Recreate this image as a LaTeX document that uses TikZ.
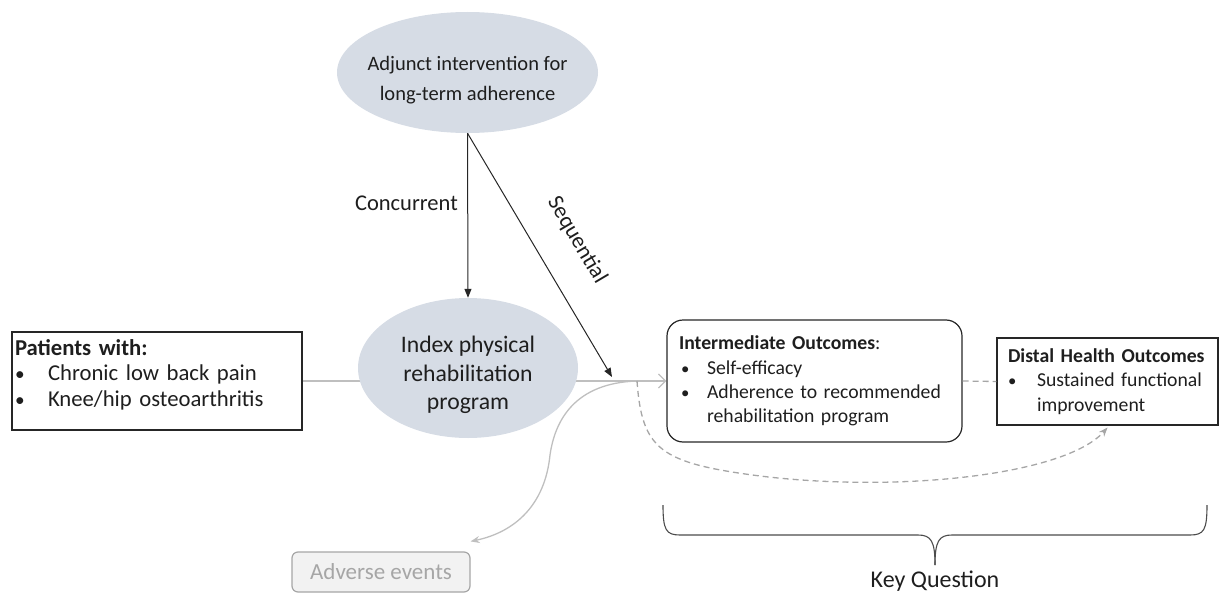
\documentclass[tikz,border=0pt]{standalone}
\usepackage{fontspec}
\setmainfont{Carlito}
\usetikzlibrary{arrows.meta,shapes.geometric}
\pgfdeclarelayer{bg}
\pgfsetlayers{bg,main}
\definecolor{ellfill}{HTML}{D6DCE5}
\definecolor{lgray}{HTML}{BFBFBF}
\definecolor{dgray}{HTML}{A6A6A6}
\definecolor{txt}{HTML}{1E1E1E}
\definecolor{aefill}{HTML}{F2F2F2}
\newcommand\bulbox[1]{\makebox[#1][l]{\scalebox{0.85}{\textbullet}}}
\begin{document}
\begin{tikzpicture}[x=1pt,y=-1pt,
  ell/.style={ellipse, fill=ellfill, inner sep=0pt},
  lbl/.style={text=txt, align=center, inner sep=0pt},
  box/.style={draw=black!85, line width=1.2pt, align=left, inner sep=0pt, text=txt},
  conn/.style={line width=1pt, draw=black!85, -{Triangle[length=9pt,width=7pt]}},
  grayline/.style={draw=lgray, line width=1.3pt},
  dashline/.style={draw=dgray, line width=1.3pt, dash pattern=on 6pt off 4pt}
]
\useasboundingbox (0,0) rectangle (1221,594);

% ellipses
\node[ell, minimum width=261pt, minimum height=121pt] (adj) at (467.5,72.5) {};
\node[lbl, font=\fontsize{20.5}{30}\selectfont] (adjtxt) at ([yshift=-8pt]adj.center) {Adjunct intervention for\\long-term adherence};
\node[ell, minimum width=220pt, minimum height=140pt] (idx) at (468,368) {};
\node[lbl, font=\fontsize{23.7}{28.5}\selectfont] (idxtxt) at ([yshift=-7pt]idx.center) {Index physical\\rehabilitation\\program};

% boxes
\node[box, minimum width=290pt, minimum height=98pt, text width=284pt,
      font=\fontsize{22.7}{26}\selectfont] (pat) at (157,381)
  {\mbox{\bfseries Patients with:}\\[-1pt]
   \mbox{\bulbox{33pt}Chronic low back pain}\\
   \mbox{\bulbox{33pt}Knee/hip osteoarthritis}\\[-18pt]\strut};

\node[box, rounded corners=16pt, minimum width=295pt, minimum height=122pt, text width=271pt,
      font=\fontsize{19.7}{24.5}\selectfont] (int) at (814.5,381)
  {\mbox{{\bfseries Intermediate Outcomes}:}\\
   \mbox{\hspace*{2pt}\bulbox{26pt}Self-efficacy}\\
   \mbox{\hspace*{2pt}\bulbox{26pt}Adherence to recommended}\\[-1pt]
   \mbox{\hspace*{28pt}rehabilitation program}};

\node[box, minimum width=221pt, minimum height=87pt, text width=199pt,
      font=\fontsize{19.7}{24.5}\selectfont] (dist) at (1107.5,381.5)
  {\mbox{\bfseries Distal Health Outcomes}\\
   \mbox{\bulbox{29pt}Sustained functional}\\
   \mbox{\hspace*{29pt}improvement}};

\node[draw=dgray, fill=aefill, line width=1.2pt, rounded corners=6pt,
      minimum width=178pt, minimum height=40pt, inner sep=0pt, text=dgray,
      font=\fontsize{23}{26}\selectfont] (ae) at (381,572) {Adverse events};

% labels
\node[lbl, anchor=east, font=\fontsize{22.5}{26}\selectfont] (conc) at (458,203) {Concurrent};
\node[lbl, rotate=-59.4, font=\fontsize{22.5}{26}\selectfont] (seq) at (577,240) {Sequential};
\node[lbl, font=\fontsize{24}{28}\selectfont] (kq) at (935,581) {Key Question};

% coordinates
\coordinate (seqend) at (612,377);
\coordinate (split) at (637,381);
\coordinate (aetip) at ([yshift=10pt]ae.north east);
\coordinate (dtip) at ([yshift=-2pt]dist.south);

% connectors
\draw[conn] (adj.south) -- (idx.north);
\draw[conn] (adj.south) -- (seqend);

\begin{pgfonlayer}{bg}
\draw[grayline, -{Straight Barb[length=7pt,width=14pt]}] (pat.east) -- (int.west);
\end{pgfonlayer}

\draw[dashline] (int.east) -- (dist.west);

\draw[grayline, -{Stealth[length=9pt,width=7pt]}] (split)
  .. controls (575,383) and (555,420) .. (550,455)
  .. controls (545,505) and (515,532) .. (aetip);

\draw[dashline, -{Stealth[length=9pt,width=7pt]}] (split)
  .. controls (642,450) and (660,463) .. (760,476)
  .. controls (900,493) and (1065,475) .. (dtip);

% brace
\draw[draw=black!70, line width=1.1pt]
  (663,505) .. controls (663,530) and (666,535) .. (680,535) -- (918,535)
  .. controls (931,535) and (935,541) .. (935,565);
\draw[draw=black!70, line width=1.1pt]
  (1207,505) .. controls (1207,530) and (1204,535) .. (1190,535) -- (952,535)
  .. controls (939,535) and (935,541) .. (935,565);
\end{tikzpicture}
\end{document}
